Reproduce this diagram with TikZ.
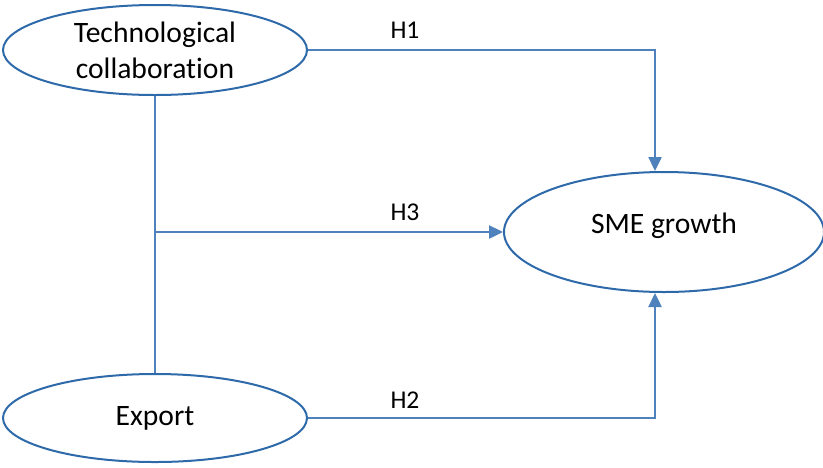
\documentclass[tikz,border=0pt]{standalone}
\usepackage{fontspec}
\setmainfont[Ligatures={NoCommon}]{Carlito}
\usetikzlibrary{arrows.meta,shapes.geometric}
\definecolor{linkblue}{RGB}{79,129,189}
\definecolor{rimblue}{RGB}{46,106,170}

\begin{document}
\begin{tikzpicture}[x=0.5pt,y=-0.5pt,
	construct/.style={ellipse,draw=rimblue,line width=1pt,fill=white,inner sep=0pt,
		align=center,font=\fontsize{14.8}{18}\selectfont},
	link/.style={draw=linkblue,line width=1.2pt,-{Triangle[length=7pt,width=6.5pt]}},
	hyp/.style={font=\fontsize{12.8}{15}\selectfont}]
	\useasboundingbox (0,0) rectangle (823,467);

	\node[construct,minimum width=152pt,minimum height=45pt] (tech) at (155,50) {Technological\\collaboration};
	\node[construct,minimum width=152pt,minimum height=44pt] (export) at (155,418) {Export};
	\node[construct,minimum width=160pt,minimum height=60pt,text depth=9pt] (sme) at (664,232) {SME growth};

	\coordinate (hub) at (155,232);

	\draw[linkblue,line width=1.2pt] (tech.south) -- (export.north);
	\draw[link] (tech.east) -| ([xshift=-4.5pt]sme.north);
	\draw[link] (hub) -- (sme.west);
	\draw[link] (export.east) -| ([xshift=-4.5pt]sme.south);

	\node[hyp] (h1) at (405,30) {H1};
	\node[hyp] (h3) at (405,212) {H3};
	\node[hyp] (h2) at (405,400) {H2};
\end{tikzpicture}
\end{document}
